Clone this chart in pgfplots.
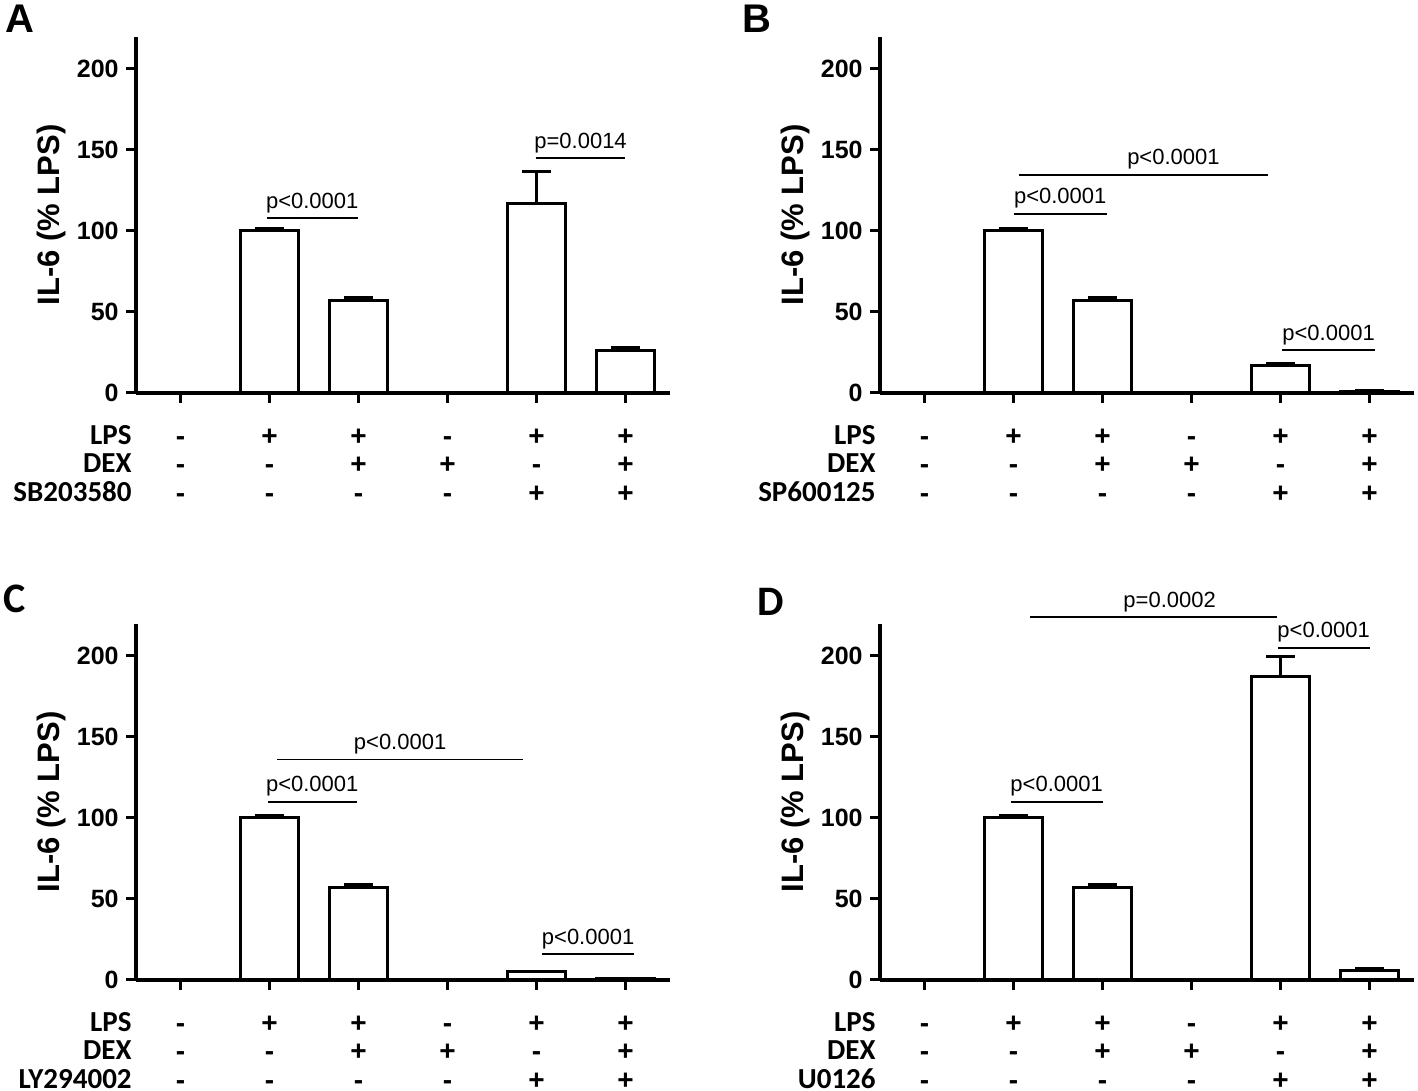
\documentclass[border=0pt]{standalone}
\usepackage{fontspec}
\setmainfont{Liberation Sans}
\newfontfamily\calfont{Carlito}
\usepackage{pgfplots}
\pgfplotsset{compat=1.18}

\newcommand\tabfont{\calfont\bfseries\fontsize{14.5}{14.4}\selectfont}
\newcommand\pmfont{\bfseries\fontsize{14}{14.4}\selectfont}
\newcommand\pfont{\fontsize{11}{11}\selectfont}

\pgfplotsset{
  panel/.style={
    scale only axis, width=267pt, height=178.2pt,
    xmin=-0.5, xmax=5.5, ymin=0, ymax=220,
    axis lines=left, axis line style={-, line width=1.8pt}, axis on top,
    clip=false,
    xtick={0,...,5}, ytick={0,50,...,200},
    tick style={black, line width=1.5pt}, major tick length=5pt, tick align=outside,
    /pgf/number format/assume math mode=true,
    yticklabel style={font=\bfseries\fontsize{12.5}{12.5}\selectfont, inner sep=3.5pt},
    xticklabels={{\strut-\\\strut-\\\strut-},{\strut+\\\strut-\\\strut-},{\strut+\\\strut+\\\strut-},
                 {\strut-\\\strut+\\\strut-},{\strut+\\\strut-\\\strut+},{\strut+\\\strut+\\\strut+}},
    xticklabel style={font=\pmfont, align=center, anchor=north, inner sep=0pt, yshift=-10.8pt},
    extra x ticks={-0.5},
    extra x tick style={major tick length=0pt, xticklabel style={font=\tabfont, anchor=north east, align=right, xshift=-2pt, yshift=-4.5pt}},
    ybar, bar width=0.66,
    ylabel={IL-6 (\% LPS)},
    ylabel style={font=\bfseries\fontsize{15.5}{15.5}\selectfont, at={(axis description cs:-0.159,0.5)}, anchor=center},
  },
  bars/.style={draw=black, fill=white, line width=1.5pt,
    error bars/.cd, y dir=plus, y explicit,
    error bar style={line width=1.5pt},
    error mark options={rotate=90, mark size=7.25pt, line width=1.5pt}},
}
\tikzset{
  pv/.style={line width=0.8pt},
  pl/.style={midway, anchor=base, yshift=5pt, font=\pfont, inner sep=0pt}
}

\begin{document}
\begin{tikzpicture}
\useasboundingbox (0,0) rectangle (709pt,545.5pt);

% A
\begin{axis}[panel, at={(68pt,349pt)}, anchor=south west,
  extra x tick labels={\strut LPS\\\strut DEX\\\strut SB203580}]
\addplot[bars] coordinates {(1,100) +- (0,1.5) (2,57) +- (0,2) (4,117) +- (0,19.5) (5,26.5) +- (0,1.5)};
\draw[pv] (axis cs:0.97,108) -- (axis cs:1.99,108) node[pl]{p<0.0001};
\draw[pv] (axis cs:3.99,145) -- (axis cs:5.0,145) node[pl]{p=0.0014};
\end{axis}

% B
\begin{axis}[panel, at={(440pt,349pt)}, anchor=south west,
  extra x tick labels={\strut LPS\\\strut DEX\\\strut SP600125}]
\addplot[bars] coordinates {(1,100) +- (0,1.5) (2,57) +- (0,2) (4,16.7) +- (0,1.2) (5,1) +- (0,0.4)};
\draw[pv] (axis cs:1.0,110.5) -- (axis cs:2.05,110.5) node[pl]{p<0.0001};
\draw[pv] (axis cs:1.06,134.6) -- (axis cs:3.86,134.6) node[pl, xshift=15pt]{p<0.0001};
\draw[pv] (axis cs:4.02,26.5) -- (axis cs:5.06,26.5) node[pl]{p<0.0001};
\end{axis}

% C
\begin{axis}[panel, at={(68pt,55.5pt)}, anchor=south west,
  extra x tick labels={\strut LPS\\\strut DEX\\\strut LY294002}]
\addplot[bars] coordinates {(1,100) +- (0,1.5) (2,57) +- (0,2) (4,5) +- (0,0.5) (5,0.8) +- (0,0.3)};
\draw[pv] (axis cs:0.98,110) -- (axis cs:1.98,110) node[pl]{p<0.0001};
\draw[pv] (axis cs:1.085,136) -- (axis cs:3.85,136) node[pl]{p<0.0001};
\draw[pv] (axis cs:4.06,16) -- (axis cs:5.1,16) node[pl]{p<0.0001};
\end{axis}

% D
\begin{axis}[panel, at={(440pt,55.5pt)}, anchor=south west,
  extra x tick labels={\strut LPS\\\strut DEX\\\strut U0126}]
\addplot[bars] coordinates {(1,100) +- (0,1.5) (2,57) +- (0,2) (4,187.6) +- (0,12) (5,6) +- (0,0.8)};
\draw[pv] (axis cs:0.97,110) -- (axis cs:2.0,110) node[pl]{p<0.0001};
\draw[pv] (axis cs:1.19,224) -- (axis cs:3.96,224) node[pl, xshift=8pt]{p=0.0002};
\draw[pv] (axis cs:3.97,205) -- (axis cs:5.0,205) node[pl]{p<0.0001};
\end{axis}

\node[anchor=north west, inner sep=0pt, font=\bfseries\fontsize{20}{20}\selectfont] at (2.5pt,543pt) {A};
\node[anchor=north west, inner sep=0pt, font=\bfseries\fontsize{20}{20}\selectfont] at (371pt,543pt) {B};
\node[anchor=north west, inner sep=0pt, font=\calfont\bfseries\fontsize{21}{21}\selectfont] at (1.5pt,253pt) {C};
\node[anchor=north west, inner sep=0pt, font=\calfont\bfseries\fontsize{21}{21}\selectfont] at (378.5pt,251.5pt) {D};
\end{tikzpicture}
\end{document}
